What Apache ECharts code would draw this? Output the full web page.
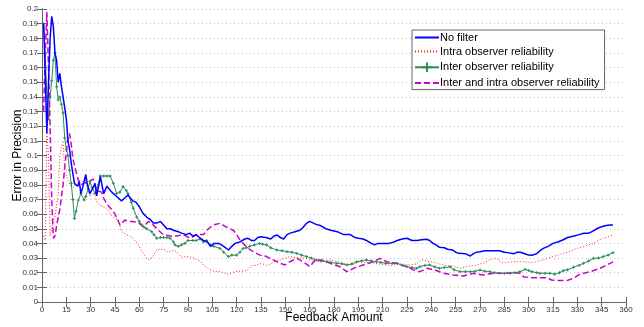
<!DOCTYPE html>
<html>
<head>
<meta charset="utf-8">
<script src="https://cdn.jsdelivr.net/npm/echarts@6/dist/echarts.min.js"></script>
<style>
  html, body { margin: 0; padding: 0; background: #fff; }
  #chart { width: 644px; height: 327px; }
</style>
</head>
<body>
<div id="chart"></div>
<script>
// [feedback amount, error] pairs
const noFilter = [[1,0.19],[2,0.155],[3,0.115],[4,0.15],[5,0.18],[6,0.195],[7,0.188],[8,0.17],[9,0.165],[10,0.15],[11,0.156],[12,0.147],[13,0.14],[14,0.141],[15,0.125],[16,0.11],[17,0.104],[18,0.095],[19,0.088],[20,0.081],[22,0.079],[23,0.082],[24,0.074],[25,0.078],[27,0.087],[28,0.08],[29.5,0.074],[31,0.077],[32.7,0.081],[33.7,0.0725],[35,0.08],[36,0.0855],[38,0.074],[40,0.079],[43,0.075],[46,0.072],[49,0.069],[51,0.071],[53,0.073],[56,0.069],[58,0.068],[60,0.065],[62,0.061],[64.5,0.058],[67,0.056],[68.6,0.054],[71,0.054],[73,0.055],[77,0.05],[79,0.05],[81,0.049],[84,0.048],[86,0.047],[89,0.046],[91,0.047],[93,0.045],[95,0.046],[97,0.044],[99.5,0.042],[102,0.041],[104,0.038],[106,0.04],[109,0.04],[112,0.038],[115,0.0355],[117,0.038],[119,0.04],[122,0.041],[125,0.043],[127,0.0435],[129,0.042],[131,0.042],[133,0.044],[135,0.0446],[138,0.044],[141,0.043],[143,0.045],[145,0.0457],[147,0.044],[149,0.043],[151,0.046],[153,0.047],[156,0.048],[159,0.049],[161,0.051],[163,0.0537],[165,0.055],[167,0.054],[169,0.053],[172,0.052],[175,0.05],[178,0.049],[182,0.048],[184,0.047],[186,0.046],[190,0.046],[193,0.044],[195,0.0435],[198,0.043],[200,0.042],[203,0.04],[205,0.039],[207,0.04],[210,0.04],[214,0.04],[217,0.041],[219,0.042],[222,0.043],[225,0.0435],[228,0.042],[231,0.042],[234,0.0425],[237,0.0428],[239,0.042],[241,0.04],[243,0.039],[245,0.0373],[248,0.037],[250,0.036],[253,0.0355],[255,0.034],[257,0.0332],[261,0.033],[264,0.0314],[266,0.033],[268,0.034],[270,0.0343],[273,0.035],[276,0.035],[280,0.035],[282,0.035],[285,0.034],[287,0.0337],[291,0.033],[293,0.034],[295,0.034],[298,0.0328],[300,0.032],[302,0.0319],[305,0.033],[307,0.035],[309,0.0366],[312,0.038],[315,0.04],[318,0.041],[321,0.0423],[324,0.044],[328,0.045],[331,0.046],[334,0.0469],[337,0.047],[339,0.048],[342,0.05],[344,0.051],[347,0.052],[350,0.0526],[352,0.0526]];

const intraObserver = [[1,0.045],[2,0.042],[3,0.115],[4,0.1],[5,0.045],[6,0.05],[7,0.055],[8,0.058],[9,0.066],[10,0.074],[11,0.099],[12,0.106],[13,0.109],[14,0.09],[15,0.086],[17,0.081],[19,0.078],[20,0.079],[22,0.082],[23.4,0.083],[25,0.082],[26.5,0.084],[28,0.078],[29.5,0.072],[31,0.074],[32.7,0.072],[34,0.068],[35.8,0.066],[38,0.065],[40,0.064],[42,0.06],[44,0.058],[47,0.056],[49,0.048],[52,0.046],[54,0.045],[56,0.0435],[58,0.041],[60,0.0378],[62,0.034],[64.5,0.0298],[66,0.029],[67.6,0.03],[70.7,0.0355],[73,0.036],[75,0.036],[78,0.034],[80,0.035],[82,0.035],[84,0.033],[86,0.0305],[89,0.031],[91,0.031],[93,0.03],[95,0.029],[97.4,0.028],[99.5,0.0253],[101,0.024],[103.6,0.022],[106,0.021],[109.7,0.0207],[112,0.02],[114,0.019],[116,0.0195],[119,0.0207],[121,0.021],[124,0.021],[127,0.022],[130,0.0253],[132,0.025],[134,0.0262],[136,0.026],[138.5,0.025],[141,0.026],[144,0.028],[147,0.0287],[150,0.03],[153,0.031],[156,0.0305],[159,0.03],[162,0.03],[165,0.029],[168,0.028],[171,0.0275],[174,0.028],[177.6,0.0287],[180,0.028],[184,0.027],[187,0.026],[190,0.0253],[193,0.026],[196,0.0275],[199,0.027],[202,0.027],[205,0.0265],[208,0.026],[211,0.0255],[214.6,0.025],[218,0.0255],[221,0.026],[224,0.0255],[227,0.0253],[231,0.026],[233,0.028],[235,0.029],[237,0.028],[239,0.0275],[242,0.027],[245,0.026],[248,0.025],[251.5,0.0246],[255,0.024],[258,0.023],[261,0.024],[264,0.0246],[267,0.025],[270,0.026],[273,0.027],[276,0.0287],[280,0.03],[282,0.028],[284,0.0268],[287,0.027],[290,0.0275],[294,0.0275],[297,0.0275],[300,0.027],[303,0.027],[306,0.028],[309,0.0287],[312,0.03],[315,0.031],[318,0.032],[321,0.0332],[324,0.034],[327.6,0.0355],[331,0.037],[334,0.0378],[337,0.039],[340,0.04],[343,0.042],[346,0.0435],[349,0.0445],[352,0.0457]];

const interObserver = [[1,0.19],[2,0.17],[3,0.14],[4,0.125],[5,0.14],[6,0.151],[7,0.165],[8,0.17],[9,0.147],[10,0.138],[11,0.14],[12,0.135],[13,0.129],[14,0.112],[15,0.104],[16,0.1],[17,0.09],[18,0.081],[19,0.07],[20,0.057],[21,0.062],[22.4,0.0696],[24,0.074],[26,0.0696],[27,0.072],[28.5,0.0776],[29.5,0.082],[31,0.078],[32.7,0.074],[34.7,0.08],[35.8,0.086],[38,0.086],[40,0.086],[42,0.086],[44,0.081],[46,0.074],[48,0.075],[50,0.0787],[52,0.076],[53,0.074],[55,0.068],[56.3,0.064],[58.4,0.058],[60,0.055],[61.5,0.0526],[63,0.051],[64.5,0.05],[67.6,0.048],[69,0.046],[70.7,0.0435],[73,0.044],[75,0.044],[77,0.044],[79,0.0435],[81,0.041],[82,0.039],[84,0.038],[86,0.039],[88,0.04],[90,0.042],[93,0.042],[95,0.042],[97.4,0.043],[99.5,0.041],[101.5,0.042],[103.6,0.039],[106,0.038],[109.7,0.0366],[112,0.034],[115,0.031],[117,0.032],[120,0.032],[122,0.034],[124,0.0366],[126,0.037],[128,0.038],[131,0.039],[134,0.04],[136,0.0395],[138.5,0.039],[141,0.037],[144.7,0.0355],[148,0.035],[151,0.0343],[154,0.034],[157,0.0332],[160,0.032],[163,0.031],[166,0.03],[169,0.0287],[172,0.028],[175.5,0.0275],[178,0.027],[181.7,0.0264],[185,0.026],[188,0.0253],[191,0.026],[194,0.0275],[197,0.028],[200,0.0287],[203,0.028],[206,0.0275],[209,0.027],[212,0.0264],[216,0.0264],[219,0.0264],[222,0.025],[225,0.0241],[228,0.0235],[231,0.023],[233,0.0241],[236,0.025],[239,0.0253],[242,0.024],[245,0.023],[248,0.0235],[251.5,0.024],[254,0.022],[257.7,0.0207],[261,0.0207],[264,0.0207],[267,0.021],[270,0.0218],[273,0.021],[276,0.0207],[279,0.02],[282,0.0196],[285,0.0196],[288.5,0.0196],[291,0.02],[294.7,0.0207],[297.8,0.0223],[300,0.0215],[302,0.0207],[305,0.02],[307,0.0196],[310,0.0196],[313,0.0196],[316,0.019],[319,0.02],[321.4,0.0214],[324,0.022],[327.6,0.0237],[331,0.025],[333.7,0.0264],[337,0.028],[340,0.0298],[343,0.03],[346,0.031],[349,0.032],[352,0.0337]];

const interIntraObserver = [[1,0.13],[2,0.17],[3,0.198],[4,0.16],[5,0.12],[6,0.07],[7,0.0435],[8,0.045],[9,0.052],[10,0.058],[11,0.063],[12,0.072],[13,0.08],[14,0.092],[15,0.102],[16,0.113],[17,0.115],[18,0.108],[19,0.098],[20.3,0.092],[22.4,0.083],[24,0.08],[25.5,0.081],[28.5,0.082],[30,0.083],[31.6,0.084],[33.7,0.076],[36.8,0.075],[38,0.071],[39.9,0.067],[43,0.063],[45,0.06],[48.1,0.0526],[51.2,0.056],[53.2,0.055],[56.3,0.055],[59.4,0.054],[62.5,0.0514],[65.6,0.055],[68.6,0.0526],[71.7,0.049],[74.8,0.046],[78.9,0.045],[83,0.045],[87,0.046],[91.3,0.0435],[95.4,0.046],[99.5,0.046],[102.6,0.05],[105.6,0.0526],[109.7,0.0537],[113.9,0.051],[117.9,0.049],[120,0.046],[122,0.0423],[124,0.04],[126,0.0378],[128,0.036],[130.3,0.0343],[134.4,0.032],[138.5,0.031],[140,0.03],[142.6,0.0287],[146.7,0.0264],[149.8,0.0253],[152.9,0.0275],[157,0.0298],[161,0.0275],[165.2,0.0241],[168.3,0.0287],[172.5,0.0287],[177.6,0.0264],[183.7,0.0241],[187.9,0.0207],[192,0.023],[198,0.0253],[204.3,0.0275],[208.4,0.0298],[212.5,0.0275],[218.7,0.0264],[224.8,0.0241],[229,0.022],[233,0.0207],[237.2,0.023],[242.3,0.0218],[247.4,0.0196],[253.6,0.0184],[259.8,0.0177],[266,0.0196],[272,0.0184],[278.3,0.0196],[284.4,0.0196],[290.6,0.02],[294.7,0.0196],[296.8,0.0173],[300.9,0.0166],[307,0.0166],[311,0.0166],[314.2,0.015],[318.3,0.0146],[323.5,0.0146],[327.6,0.0162],[331.7,0.019],[337.9,0.0207],[344,0.023],[350.2,0.0264],[352,0.0275]];

const seriesNames = ['No filter', 'Intra observer reliability', 'Inter observer reliability', 'Inter and intra observer reliability'];

const chart = echarts.init(document.getElementById('chart'), null, { renderer: 'canvas' });

const tickFont = { color: '#333', fontFamily: 'Liberation Sans, Arial', fontSize: 8 };
const boxLine = { lineStyle: { color: '#666', width: 1 } };
const boxTick = { inside: true, length: 5, lineStyle: { color: '#666' } };
const plusPath = 'path://M0,5 L10,5 M5,0 L5,10';

const option = {
  backgroundColor: '#fff',
  animation: false,
  grid: { left: 42, right: 18, top: 9, bottom: 25, containLabel: false, outerBoundsMode: 'none' },
  legend: {
    data: [
      { name: seriesNames[0], itemStyle: { opacity: 0 } },
      { name: seriesNames[1], itemStyle: { opacity: 0 } },
      { name: seriesNames[2] },
      { name: seriesNames[3], itemStyle: { opacity: 0 } }
    ],
    orient: 'vertical',
    left: 412,
    top: 30,
    backgroundColor: '#fff',
    borderColor: '#666',
    borderWidth: 1,
    borderRadius: 0,
    padding: [2, 5, 1, 2],
    itemGap: 3,
    itemWidth: 24,
    itemHeight: 12,
    textStyle: { color: '#000', fontFamily: 'Liberation Sans, Arial', fontSize: 11, padding: [0, 0, 0, -4] }
  },
  xAxis: [
    {
      type: 'value', min: 0, max: 360, interval: 15,
      name: 'Feedback Amount', nameLocation: 'middle', nameGap: 10, nameMoveOverlap: false,
      nameTextStyle: { color: '#000', fontFamily: 'Liberation Sans, Arial', fontSize: 12 },
      axisLine: boxLine,
      axisTick: boxTick,
      axisLabel: Object.assign({ margin: 4 }, tickFont),
      splitLine: { show: false }
    },
    {
      type: 'value', min: 0, max: 360, interval: 15, position: 'top',
      axisLine: boxLine,
      axisTick: boxTick,
      axisLabel: { show: false },
      splitLine: { show: false }
    }
  ],
  yAxis: [
    {
      type: 'value', min: 0, max: 0.2, interval: 0.01,
      name: 'Error in Precision', nameLocation: 'middle', nameGap: 18, nameRotate: 90, nameMoveOverlap: false,
      nameTextStyle: { color: '#000', fontFamily: 'Liberation Sans, Arial', fontSize: 12 },
      axisLine: boxLine,
      axisTick: boxTick,
      axisLabel: Object.assign({ margin: 4, formatter: v => String(parseFloat(v.toFixed(2))) }, tickFont),
      splitLine: { show: true, lineStyle: { color: '#bbb', type: [1, 3], width: 1 } }
    },
    {
      type: 'value', min: 0, max: 0.2, interval: 0.01, position: 'right',
      axisLine: boxLine,
      axisTick: boxTick,
      axisLabel: { show: false },
      splitLine: { show: false }
    }
  ],
  series: [
    {
      name: seriesNames[0], type: 'line', data: noFilter, symbol: 'none',
      lineStyle: { color: '#0000ff', width: 1.5 }, itemStyle: { color: '#0000ff' }, z: 5
    },
    {
      name: seriesNames[1], type: 'line', data: intraObserver, symbol: 'none',
      lineStyle: { color: '#ff2020', width: 1, type: [1, 2] }, itemStyle: { color: '#ff2020' }, z: 3
    },
    {
      name: seriesNames[2], type: 'line', data: interObserver,
      symbol: plusPath, symbolSize: 3, showAllSymbol: true,
      lineStyle: { color: '#2e8b57', width: 1 },
      itemStyle: { color: 'none', borderColor: '#2e8b57', borderWidth: 1 }, z: 4
    },
    {
      name: seriesNames[3], type: 'line', data: interIntraObserver, symbol: 'none',
      lineStyle: { color: '#cc00cc', width: 1.5, type: [6, 3] }, itemStyle: { color: '#cc00cc' }, z: 4
    }
  ]
};

chart.setOption(option);
</script>
</body>
</html>
